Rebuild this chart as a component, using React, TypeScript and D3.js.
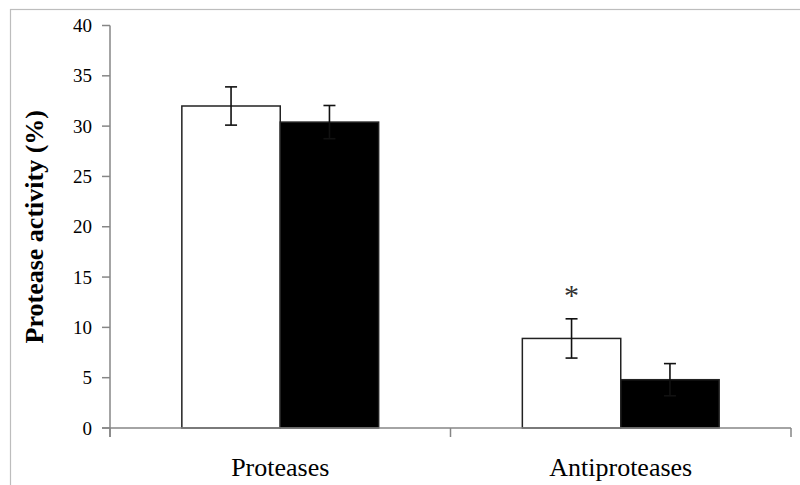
import React from "react";
import * as d3 from "d3";

const categories = ["Proteases", "Antiproteases"];
const seriesKeys = ["control", "treated"];
const controlValues = [32.0, 8.9];
const controlErrors = [1.9, 1.95];
const treatedValues = [30.4, 4.8];
const treatedErrors = [1.65, 1.6];
const yTicks = [0, 5, 10, 15, 20, 25, 30, 35, 40];
const significance = ["", "*"];
const yTitle = "Protease activity (%)";

const W = 800;
const H = 485;
const left = 110;
const right = 791;
const top = 25.5;
const bottom = 428;

const seriesStyle: Record<string, string> = { control: "#ffffff", treated: "#000000" };

const SERIF = "Times New Roman";

export default function App() {
  const x = d3.scaleBand<string>().domain(categories).range([left, right]).padding(0);
  const y = d3.scaleLinear().domain([0, 40]).range([bottom, top]);
  const groupWidth = x.bandwidth() * 0.578;
  const inner = d3.scaleBand<string>().domain(seriesKeys).range([0, groupWidth]).padding(0);

  const rows = categories.map((c, i) => ({
    cat: c,
    sig: significance[i],
    bars: [
      { key: "control", v: controlValues[i], e: controlErrors[i] },
      { key: "treated", v: treatedValues[i], e: treatedErrors[i] },
    ],
  }));

  const axisColor = "#868686";

  return (
    <svg width={W} height={H} style={{ position: "absolute", left: 0, top: 0 }}>
      <rect x={0} y={0} width={W} height={H} fill="#fff" />
      <rect x={10.5} y={9.5} width={W} height={H} fill="none" stroke="#bdbdbd" strokeWidth={1.2} />

      {/* bars */}
      {rows.map((r) => {
        const gx = (x(r.cat) as number) + (x.bandwidth() - groupWidth) / 2;
        return (
          <g key={r.cat}>
            {r.bars.map((b) => {
              const bx = gx + (inner(b.key) as number);
              return (
                <rect
                  key={b.key}
                  x={bx}
                  y={y(b.v)}
                  width={inner.bandwidth()}
                  height={y(0) - y(b.v)}
                  fill={seriesStyle[b.key]}
                  stroke="#222"
                  strokeWidth={1.5}
                />
              );
            })}
            {r.bars.map((b) => {
              const cx = gx + (inner(b.key) as number) + inner.bandwidth() / 2;
              return (
                <g key={b.key + "-err"} stroke="#111" strokeWidth={1.6}>
                  <line x1={cx} x2={cx} y1={y(b.v + b.e)} y2={y(b.v - b.e)} />
                  <line x1={cx - 6} x2={cx + 6} y1={y(b.v + b.e)} y2={y(b.v + b.e)} />
                  <line x1={cx - 6} x2={cx + 6} y1={y(b.v - b.e)} y2={y(b.v - b.e)} />
                </g>
              );
            })}
            {r.sig && (
              <text
                x={gx + (inner("control") as number) + inner.bandwidth() / 2}
                y={y(r.bars[0].v + r.bars[0].e) - 14}
                textAnchor="middle"
                fontSize="30px"
                fontFamily={SERIF}
                fill="#333"
              >
                {r.sig}
              </text>
            )}
          </g>
        );
      })}

      {/* y axis */}
      <line x1={left} x2={left} y1={top} y2={bottom + 9} stroke={axisColor} strokeWidth={1.5} />
      {yTicks.map((t) => (
        <g key={t}>
          <line x1={left - 8} x2={left} y1={y(t)} y2={y(t)} stroke={axisColor} strokeWidth={1.5} />
          <text x={left - 18} y={y(t)} dy="0.35em" textAnchor="end" fontSize="19px" fontFamily={SERIF} fill="#000">
            {String(t)}
          </text>
        </g>
      ))}

      {/* x axis */}
      <line x1={left - 8} x2={right} y1={bottom} y2={bottom} stroke={axisColor} strokeWidth={1.5} />
      {[left, ...categories.slice(1).map((c) => x(c) as number), right].map((px, i) => (
        <line key={i} x1={px} x2={px} y1={bottom} y2={bottom + 9} stroke={axisColor} strokeWidth={1.5} />
      ))}
      {categories.map((c) => (
        <text
          key={c}
          x={(x(c) as number) + x.bandwidth() / 2}
          y={476}
          textAnchor="middle"
          fontSize="26px"
          fontFamily={SERIF}
          fill="#000"
        >
          {c}
        </text>
      ))}

      <text
        transform={`translate(43, ${(top + bottom) / 2}) rotate(-90)`}
        textAnchor="middle"
        fontSize="26px"
        fontFamily={SERIF}
        fontWeight="bold"
        fill="#000"
      >
        {yTitle}
      </text>
    </svg>
  );
}
